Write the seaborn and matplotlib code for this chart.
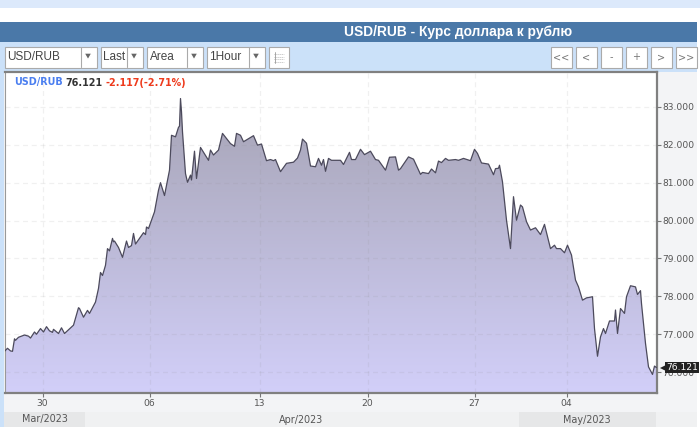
import numpy as np
import pandas as pd
import seaborn as sns
import matplotlib.pyplot as plt
from matplotlib.patches import Rectangle, Polygon

# hourly bar number on the chart, and the rate read at that bar
bars = [0, 3, 6, 8, 10, 11, 14, 20, 24, 26, 30, 32, 36, 39, 42, 45, 48, 49, 54, 57, 60, 69, 71, 74, 75, 79, 83, 85, 91, 94,
        96, 98, 101, 103, 105, 108, 109, 110, 114, 118, 122, 124, 127, 129, 131, 139, 141, 142, 144, 150, 154, 156, 160,
        165, 167, 171, 174, 175, 176, 177, 178, 181, 183, 186, 187, 190, 192, 196, 204, 206, 209, 214, 218, 226, 230, 232,
        236, 239, 249, 253, 257, 262, 266, 269, 271, 276, 282, 289, 293, 296, 298, 302, 306, 311, 314, 317, 319, 321, 324,
        327, 336, 339, 345, 347, 351, 356, 360, 366, 371, 374, 381, 385, 391, 394, 396, 404, 409, 416, 418, 424, 427, 431,
        434, 437, 441, 444, 451, 454, 459, 466, 470, 473, 477, 484, 489, 491, 494, 495, 498, 502, 506, 509, 511, 512, 516,
        518, 522, 526, 531, 536, 540, 541, 546, 550, 552, 556, 560, 563, 567, 571, 574, 578, 582, 588, 590, 593, 596, 599,
        601, 605, 610, 611, 613, 616, 620, 622, 626, 631, 633, 636, 637, 641, 644, 648, 650, 652]
rate = [76.55, 76.63, 76.56, 76.55, 76.88, 76.84, 76.92, 76.98, 76.95, 76.90, 77.06, 77.00, 77.15, 77.06, 77.20, 77.09,
        77.05, 77.13, 77.02, 77.17, 77.02, 77.24, 77.42, 77.70, 77.68, 77.45, 77.63, 77.55, 77.85, 78.21,
        78.63, 78.55, 78.82, 79.26, 79.20, 79.53, 79.44, 79.46, 79.29, 79.03, 79.46, 79.29, 79.34, 79.66, 79.38, 79.68,
        79.63, 79.83, 79.79, 80.23, 80.80, 81.00, 80.66,
        81.33, 82.25, 82.21, 82.46, 82.49, 83.22, 82.87, 82.34, 81.24, 81.01, 81.20, 81.07, 81.83, 81.11, 81.93, 81.59,
        81.86, 81.73, 81.86, 82.30, 82.03, 81.96, 82.30,
        82.25, 82.08, 82.24, 81.99, 82.02, 81.58, 81.61, 81.58, 81.61, 81.29, 81.51, 81.54, 81.65, 81.86, 82.15, 82.04,
        81.44, 81.42, 81.64, 81.46, 81.61, 81.30, 81.64,
        81.59, 81.59, 81.48, 81.80, 81.61, 81.61, 81.88, 81.74, 81.83, 81.61, 81.59, 81.33, 81.67, 81.68, 81.33, 81.37,
        81.68, 81.62, 81.22, 81.27, 81.24, 81.36, 81.26,
        81.57, 81.53, 81.64, 81.59, 81.61, 81.59, 81.64, 81.58, 81.88, 81.77, 81.52, 81.49, 81.21, 81.37, 81.38, 81.46,
        81.02, 80.01, 79.26, 80.63, 80.23, 80.01, 80.41,
        80.36, 79.97, 79.75, 79.81, 79.63, 79.90, 79.79, 79.26, 79.35, 79.26, 79.26, 79.15, 79.35, 79.09, 78.43, 78.25,
        77.90, 77.96, 77.99, 77.15, 76.42, 76.93, 77.15,
        77.02, 77.35, 77.35, 77.64, 77.02, 77.68, 77.55, 77.99, 78.28, 78.25, 78.05, 78.15, 77.81, 76.76, 76.14, 75.94,
        76.16, 76.121]

day_bars = [38, 145, 255, 363, 470, 562]
day_labels = ["30", "06", "13", "20", "27", "04"]
price_ticks = [76, 77, 78, 79, 80, 81, 82, 83]
months = ["Mar/2023", "Apr/2023", "May/2023"]
dropdowns = ["USD/RUB", "Last", "Area", "1Hour"]
nav_buttons = ["<<", "<", "-", "+", ">", ">>"]

sns.set_style("white")
plt.rcParams["font.family"] = ["Liberation Sans", "DejaVu Sans"]
plt.rcParams["hatch.linewidth"] = 0.3
plt.rcParams["hatch.color"] = "#c8daf2"

df = pd.DataFrame({"bar": bars, "rate": rate})

fig = plt.figure(figsize=(7, 4.3), dpi=100)

# page furniture, drawn in pixel coordinates
bg = fig.add_axes([0, 0, 1, 1])
bg.set_xlim(0, 700)
bg.set_ylim(430, 0)
bg.axis("off")


def box(x, y, w, h, fc, ec="none", lw=0, z=1):
    bg.add_patch(Rectangle((x, y), w, h, fc=fc, ec=ec, lw=lw, zorder=z))


bg.add_patch(Rectangle((0, 0), 700, 8, fc="#dce9fb", ec="none", hatch="+++++", lw=0))
box(0, 22, 697, 20, "#4a78a8")
box(0, 42, 697, 385, "#cbe1f9")
box(4, 72, 693, 355, "#f3f4f6", z=2)
box(4, 412, 693, 15, "#f0f1f2", z=2)
box(4, 412, 81, 15, "#e6e7e8", z=3)
box(519, 412, 137, 15, "#e6e7e8", z=3)
bg.text(458.5, 32, "USD/RUB - Курс доллара к рублю", color="white", fontsize=9.9, fontweight="bold",
        ha="center", va="center", zorder=5)

# dropdowns and buttons of the toolbar
dd_x = [(4, 96, 80), (100, 142, 126), (146, 202, 186), (206, 264, 248)]
for label, (x0, x1, split) in zip(dropdowns, dd_x):
    box(x0 + .5, 46.5, x1 - x0, 21, "white", "#aaaaaa", 0.8, 3)
    bg.plot([split + .5, split + .5], [47, 67], color="#aaaaaa", lw=0.8, zorder=4)
    bg.add_patch(Polygon([(split + 4, 53), (split + 12, 53), (split + 8, 60)], fc="#666666", zorder=4))
    bg.text(x0 + 3.5, 57, label, fontsize=8.5, color="#444444", va="center", zorder=5)
box(268.5, 46.5, 20, 21, "white", "#aaaaaa", 0.8, 3)
for yy in [54, 56.5, 59, 61.5]:
    bg.plot([274, 284], [yy, yy], color="#bbbbbb", lw=0.7, ls=(0, (1, 1)), zorder=4)
bg.plot([274.5, 274.5], [52, 63], color="#999999", lw=0.6, zorder=4)
for i, label in enumerate(nav_buttons):
    x0 = 550 + i * 25
    box(x0 + .5, 46.5, 21, 21, "white", "#aaaaaa", 0.8, 3)
    bg.text(x0 + 11, 57, label, fontsize=7, color="#777777", ha="center", va="center", zorder=5,
            family="DejaVu Sans")

# the chart itself
ax = fig.add_axes([4.5 / 700, (430 - 393) / 430, 652.5 / 700, 321 / 430], zorder=4)
ax.set_facecolor("white")

poly = ax.fill_between(df["bar"], df["rate"], 75.45, color="none", lw=0)
shade = sns.blend_palette(["#d2cff9", "#a6a4b5"], 256)
grad = ax.imshow(np.array(shade)[:, None, :], origin="lower", aspect="auto",
                 extent=[0, 652.5, 75.45, 83.3], zorder=1)
grad.set_clip_path(poly.get_paths()[0], ax.transData)
ax.set_xlim(0, 652.5)
ax.set_ylim(75.45, 83.92)

sns.lineplot(data=df, x="bar", y="rate", estimator=None, color="#4c4a5c", lw=0.9, ax=ax, zorder=3)

ax.grid(True, color="#8a8a8a", alpha=0.12, ls=(0, (4, 3)), lw=0.9, zorder=2)
ax.set_axisbelow(False)
ax.set_xticks(day_bars, day_labels)
ax.set_yticks(price_ticks, [f"{v:.3f}" for v in price_ticks])
ax.yaxis.tick_right()
ax.set_xlabel("")
ax.set_ylabel("")
ax.tick_params(axis="x", length=3, width=0.8, color="#777777", labelsize=6.6, labelcolor="#555555", pad=1.5, bottom=True)
ax.tick_params(axis="y", length=3, width=0.8, color="#777777", labelsize=6.6, labelcolor="#555555", pad=1, right=True)
for lab in ax.get_xticklabels() + ax.get_yticklabels():
    lab.set_family("DejaVu Sans")
for side in ["top", "right", "bottom"]:
    ax.spines[side].set_color("#808080")
    ax.spines[side].set_linewidth(1.6)
ax.spines["left"].set_color("#999999")
ax.spines["left"].set_linewidth(0.8)

# last price flag on the right axis
ax.plot([659], [rate[-1]], marker="<", ms=6, color="#222222", mew=0, clip_on=False, zorder=9)
ax.annotate(f"{rate[-1]:.3f}", xy=(652.5, rate[-1]), xycoords="data", xytext=(6.5, 0), textcoords="offset points",
            fontsize=6.6, color="white", family="DejaVu Sans", va="center", ha="left", annotation_clip=False,
            bbox=dict(boxstyle="square,pad=0.12", fc="#222222", ec="none"), zorder=10)

# quote line in the top left
quote = [("USD/RUB", "#4a7ef0", 14), ("76.121", "#333333", 65), ("-2.117(-2.71%)", "#ee3a1c", 105)]
for text, col, x in quote:
    fig.text(x / 700, 1 - 82.5 / 430, text, fontsize=6.9, fontweight="bold", color=col,
             family="DejaVu Sans", va="center", zorder=6)

for name, x, y in [(months[0], 45, 419), (months[1], 301, 420), (months[2], 587, 420)]:
    bg.text(x, y, name, fontsize=6.9, color="#555555", ha="center", va="center", zorder=5, family="DejaVu Sans")

fig.savefig("out.png", dpi=100)
